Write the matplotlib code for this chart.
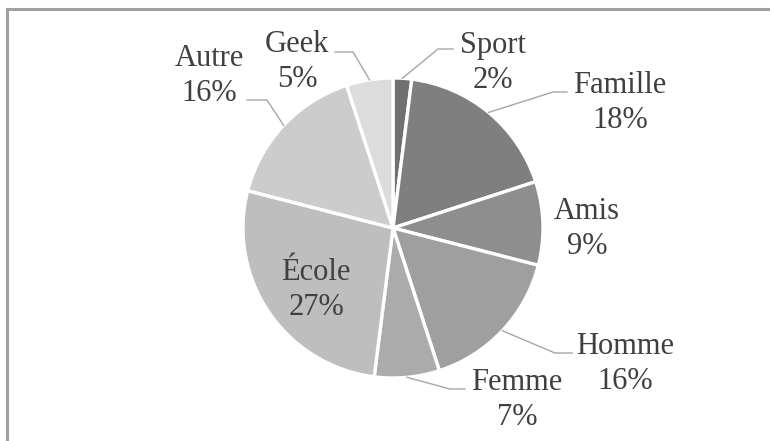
import matplotlib
matplotlib.use("Agg")
import matplotlib.pyplot as plt
import numpy as np

# slice data, clockwise from 12 o'clock
labels = ["Sport", "Famille", "Amis", "Homme", "Femme", "École", "Autre", "Geek"]
shares = [2, 18, 9, 16, 7, 27, 16, 5]
colors = ["#707070", "#7f7f7f", "#8e8e8e", "#9f9f9f",
          "#ababab", "#bebebe", "#cccccc", "#dcdcdc"]

# label layout in pixel space (y down): text centre, then optional leader elbow/end
TEXT_POS = {
    "Sport":   (493, 63),
    "Famille": (620, 103),
    "Amis":    (587, 229),
    "Homme":   (625, 364),
    "Femme":   (517, 400),
    "École":   (316, 290),
    "Autre":   (209, 76),
    "Geek":    (297, 62),
}
LEADERS = {
    "Sport":   [(438, 49), (453, 49)],
    "Famille": [(553, 92), (567, 92)],
    "Homme":   [(555, 353), (572, 353)],
    "Femme":   [(450, 389), (465, 389)],
    "Geek":    [(353, 52), (335, 52)],
    "Autre":   [(267, 100), (247, 100)],
}

W, H = 770, 441
CX, CY, R = 393, 228, 150
TEXT_COLOR = "#404040"
LINE_COLOR = "#a6a6a6"

plt.rcParams["font.family"] = ["Liberation Serif", "DejaVu Serif"]

fig = plt.figure(figsize=(W / 100, H / 100), dpi=100)
ax = fig.add_axes([0, 0, 1, 1])

# y axis inverted -> startangle -90 / counterclock gives clockwise from top on screen
wedges, _ = ax.pie(shares, colors=colors, startangle=-90, counterclock=True,
                   center=(CX, CY), radius=R,
                   wedgeprops=dict(edgecolor="white", linewidth=2.4))
ax.set_xlim(0, W)
ax.set_ylim(H, 0)
ax.set_aspect("equal")
ax.axis("off")

for w, name, pct in zip(wedges, labels, shares):
    tx, ty = TEXT_POS[name]
    ax.text(tx, ty, f"{name}\n{pct}%", ha="center", va="center",
            fontsize=22, color=TEXT_COLOR, linespacing=1.3)
    if name in LEADERS:
        mid = np.deg2rad((w.theta1 + w.theta2) / 2)
        sx, sy = CX + R * np.cos(mid), CY + R * np.sin(mid)
        pts = [(sx, sy)] + LEADERS[name]
        xs, ys = zip(*pts)
        ax.plot(xs, ys, color=LINE_COLOR, lw=1.0)

# chart frame (only left and top edges visible in the crop)
ax.plot([6.5, 6.5, W], [H, 8.5, 8.5], color="#a0a0a0", lw=2.2,
        solid_joinstyle="miter")

fig.savefig("out.png", dpi=100)
